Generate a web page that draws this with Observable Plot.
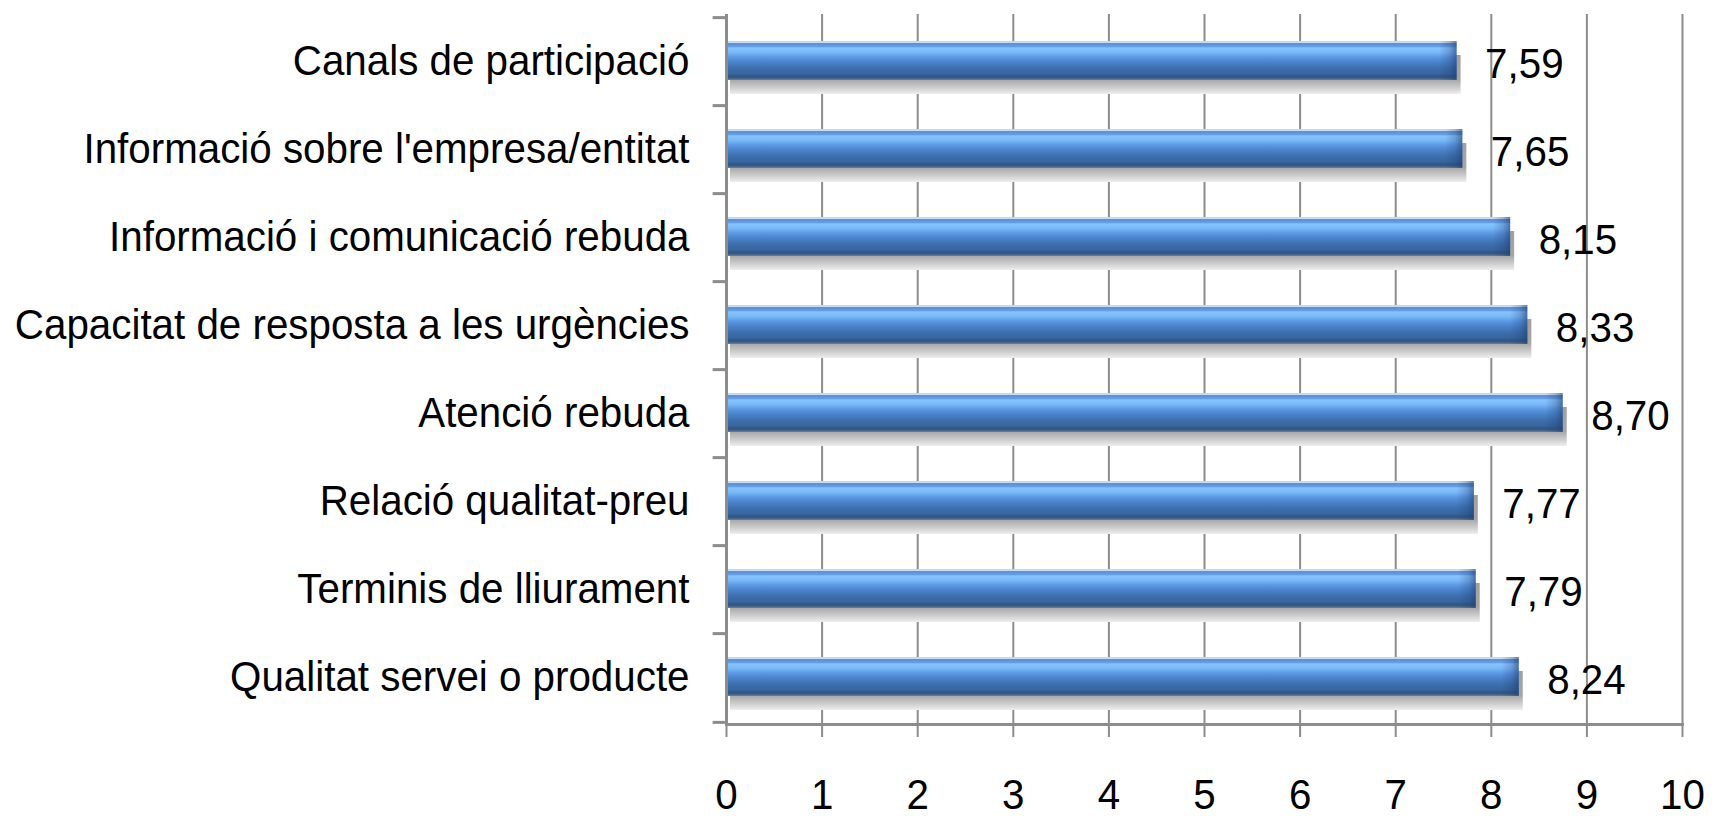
<!DOCTYPE html>
<html><head><meta charset="utf-8">
<script src="https://cdn.jsdelivr.net/npm/d3@7"></script>
<script src="https://cdn.jsdelivr.net/npm/@observablehq/plot@0.6"></script>
<style>body{margin:0;background:#fff;overflow:hidden}</style>
</head><body><div id="chart"></div>
<script>
const categories = [
  "Canals de participació",
  "Informació sobre l'empresa/entitat",
  "Informació i comunicació rebuda",
  "Capacitat de resposta a les urgències",
  "Atenció rebuda",
  "Relació qualitat-preu",
  "Terminis de lliurament",
  "Qualitat servei o producte"
];
const values = [7.59, 7.65, 8.15, 8.33, 8.70, 7.77, 7.79, 8.24];
const xTicks = [0, 1, 2, 3, 4, 5, 6, 7, 8, 9, 10];

const data = categories.map((c, i) => ({category: c, value: values[i]}));

const W = 1720, H = 820, mT = 14, mB = 96, mL = 726, mR = 38;
const step = (H - mT - mB) / categories.length;
const GRAY = "#8c8c8c";
const FS = 42;
const K = 0.96;

const chart = Plot.plot({
  width: W, height: H,
  marginTop: mT, marginBottom: mB, marginLeft: mL, marginRight: mR,
  style: {fontFamily: "Liberation Sans", fontSize: FS + "px", color: "#000", background: "#fff"},
  x: {domain: [0, 10]},
  y: {domain: categories, paddingInner: 0.56, paddingOuter: 0.28},
  marks: [
    Plot.gridX(xTicks.filter(t => t > 0), {stroke: GRAY, strokeOpacity: 1, strokeWidth: 2}),
    Plot.barX(data, {x: "value", y: "category", fill: "url(#shadowGrad)", dy: 13, dx: 4, insetRight: -5}),
    Plot.barX(data, {x: "value", y: "category", fill: "url(#barGrad)", dy: -1, insetRight: -5}),
    Plot.barX(data, {x1: d => d.value - 0.13, x2: "value", y: "category", fill: "url(#endGrad)", dy: -1, insetRight: -5}),
    Plot.text(data, {x: "value", y: "category", text: d => d.value.toFixed(2).replace(".", ","),
      textAnchor: "start", dx: 33, dy: 3, fontSize: FS, fill: "#000"}),
    Plot.ruleX([0], {stroke: GRAY, strokeWidth: 3}),
    Plot.frame({anchor: "bottom", stroke: GRAY, strokeWidth: 3}),
    Plot.ruleY(categories, {y: d => d, x1: -0.14, x2: 0, dy: -step / 2, stroke: GRAY, strokeWidth: 3}),
    Plot.ruleY(categories.slice(-1), {y: d => d, x1: -0.14, x2: 0, dy: step / 2, stroke: GRAY, strokeWidth: 3}),
    Plot.axisY({tickSize: 0, tickPadding: 37, fontSize: FS, fill: "#000", label: null}),
    Plot.axisX(xTicks, {tickSize: 13, tickPadding: 42, stroke: GRAY, strokeWidth: 2, fill: "#000", fontSize: FS, label: null})
  ]
});

const defs = d3.select(chart).insert("defs", ":first-child");
function grad(id, stops, horiz) {
  const g = defs.append("linearGradient").attr("id", id)
    .attr("x1", 0).attr("y1", 0).attr("x2", horiz ? 1 : 0).attr("y2", horiz ? 0 : 1);
  stops.forEach(([o, c, op]) => g.append("stop").attr("offset", o).attr("stop-color", c).attr("stop-opacity", op ?? 1));
}
grad("barGrad", [
  [0, "#c8daf0"], [0.05, "#c8daf0"], [0.06, "#5b93dc"], [0.13, "#5f98e0"],
  [0.18, "#86c4ff"], [0.3, "#79b6f6"], [0.42, "#5a97e3"], [0.55, "#4a82c9"],
  [0.7, "#3d6fad"], [0.85, "#36649c"], [0.9, "#2f5687"], [0.95, "#3b5a80"], [1, "#6f839e"]
]);
grad("shadowGrad", [
  [0, "#a0a0a0"], [0.62, "#a6a6a6"], [0.75, "#bdbdbd"], [0.9, "#dadada"], [1, "#efefef"]
]);
grad("endGrad", [
  [0, "#1e3c6e", 0], [0.6, "#1e3c6e", 0.25], [1, "#1e3c6e", 0.6]
], true);

document.getElementById("chart").append(chart);
chart.querySelectorAll("text").forEach(t => {
  const L = t.getComputedTextLength();
  t.setAttribute("textLength", L * K);
  t.setAttribute("lengthAdjust", "spacingAndGlyphs");
});
</script>
</body></html>
